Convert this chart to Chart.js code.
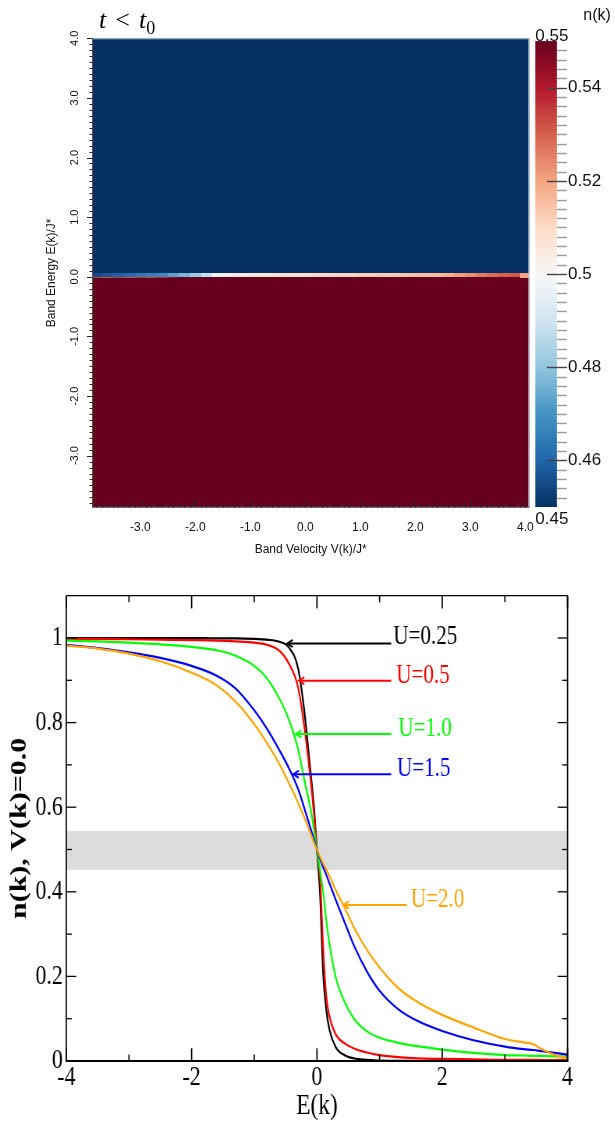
<!DOCTYPE html>
<html>
<head>
<meta charset="utf-8">
<script src="https://cdn.jsdelivr.net/npm/chart.js@4.4.1/dist/chart.umd.min.js"></script>
<style>
  html, body { margin: 0; padding: 0; background: #fff; }
  body { width: 615px; height: 1124px; position: relative; overflow: hidden; }
  #cTop { position: absolute; left: 0; top: 0; }
  #cBot { position: absolute; left: 0; top: 570px; transform: scaleX(0.78); transform-origin: 0 0; }
  #ttl { position: absolute; left: 99px; top: 6px; font: italic 26px "Liberation Serif", serif; line-height: 28px; color: #000; white-space: nowrap; }
  #ttl .op { font-style: normal; margin: 0 9px; }
  #ttl sub { font-style: normal; font-size: 18px; }
</style>
</head>
<body>
<canvas id="cTop" width="615" height="570"></canvas>
<canvas id="cBot" width="788" height="554"></canvas>
<div id="ttl"><i>t</i><span class="op">&lt;</span><i>t</i><sub>0</sub></div>
<script>
/* carte n(k) en haut, coupes n(E) a V=0 en bas */

// ---- heatmap ----
var V_MIN = -3.88, V_MAX = 4.07;
var E_MIN = -3.87, E_MAX = 4.0;
var V_TICKS = [-3, -2, -1, 0, 1, 2, 3, 4];
var E_TICKS = [-3, -2, -1, 0, 1, 2, 3, 4];
var CB_TICKS = [0.46, 0.48, 0.5, 0.52, 0.54];
var CB_ENDS = [0.45, 0.55];
var V_CELLS = [-3.8, -3.6, -3.4, -3.2, -3.0, -2.8, -2.6, -2.4, -2.2, -2.0,
               -1.8, -1.6, -1.4, -1.2, -1.0, -0.8, -0.6, -0.4, -0.2, 0.0,
                0.2, 0.4, 0.6, 0.8, 1.0, 1.2, 1.4, 1.6, 1.8, 2.0,
                2.2, 2.4, 2.6, 2.8, 3.0, 3.2, 3.4, 3.6, 3.8, 4.0];
var E_EDGES = [-3.87, -0.025, 0.0, 0.058, 4.0];
var N_BELOW = 0.55;
var N_ABOVE = 0.45;
var N_EDGE = [0.535, 0.532, 0.536, 0.533, 0.536, 0.534, 0.538, 0.545, 0.550, 0.550,
              0.550, 0.550, 0.550, 0.550, 0.550, 0.550, 0.550, 0.550, 0.550, 0.550,
              0.550, 0.550, 0.550, 0.550, 0.550, 0.550, 0.550, 0.550, 0.550, 0.550,
              0.550, 0.550, 0.550, 0.550, 0.550, 0.550, 0.550, 0.550, 0.550, 0.520];
var N_STRIP = [0.455, 0.457, 0.459, 0.461, 0.464, 0.466, 0.468, 0.473, 0.477, 0.481,
               0.488, 0.497, 0.503, 0.505, 0.506, 0.506, 0.507, 0.508, 0.509, 0.509,
               0.510, 0.510, 0.511, 0.511, 0.512, 0.512, 0.513, 0.513, 0.514, 0.515,
               0.515, 0.516, 0.518, 0.521, 0.523, 0.526, 0.528, 0.530, 0.531, 0.520];

// ---- courbes ----
var E_GRID = [-4, -3.5, -3, -2.5, -2, -1.6, -1.3, -1.0, -0.8, -0.6,
              -0.45, -0.3, -0.2, -0.1, -0.05, 0, 0.05, 0.1, 0.15, 0.2,
              0.3, 0.45, 0.6, 0.8, 1.0, 1.3, 1.6, 2.0, 2.5, 3.0,
              3.3, 3.45, 3.6, 3.8, 4.0];
var N_U025 = [1.000, 1.000, 1.000, 1.000, 1.000, 0.999, 0.999, 0.998, 0.996, 0.991,
              0.978, 0.928, 0.826, 0.680, 0.605, 0.500, 0.395, 0.205, 0.120, 0.074,
              0.033, 0.013, 0.006, 0.003, 0.001, 0.0005, 0.000, 0.000, 0.000, 0.000,
              0.000, 0.000, 0.000, 0.000, 0.000];
var N_U05 = [0.998, 0.998, 0.997, 0.996, 0.995, 0.994, 0.992, 0.989, 0.984, 0.970,
             0.940, 0.883, 0.789, 0.664, 0.588, 0.500, 0.433, 0.264, 0.152, 0.106,
             0.063, 0.041, 0.029, 0.020, 0.014, 0.009, 0.006, 0.005, 0.004, 0.003,
             0.003, 0.003, 0.002, 0.002, 0.002];
var N_U10 = [0.994, 0.992, 0.989, 0.985, 0.979, 0.971, 0.958, 0.934, 0.905, 0.857,
             0.808, 0.737, 0.664, 0.595, 0.550, 0.500, 0.450, 0.398, 0.332, 0.277,
             0.198, 0.137, 0.098, 0.070, 0.055, 0.043, 0.035, 0.027, 0.019, 0.014,
             0.013, 0.012, 0.012, 0.011, 0.011];
var N_U15 = [0.984, 0.976, 0.966, 0.953, 0.934, 0.911, 0.881, 0.829, 0.786, 0.735,
             0.693, 0.643, 0.597, 0.549, 0.525, 0.500, 0.478, 0.458, 0.440, 0.420,
             0.381, 0.325, 0.270, 0.211, 0.166, 0.122, 0.095, 0.071, 0.049, 0.034,
             0.028, 0.026, 0.023, 0.019, 0.015];
var N_U20 = [0.982, 0.975, 0.963, 0.945, 0.918, 0.888, 0.850, 0.796, 0.752, 0.702,
             0.658, 0.610, 0.575, 0.537, 0.518, 0.500, 0.483, 0.467, 0.452, 0.437,
             0.404, 0.360, 0.313, 0.262, 0.221, 0.172, 0.140, 0.109, 0.079, 0.052,
             0.044, 0.040, 0.027, 0.014, 0.006];
var X_TICKS = [-4, -2, 0, 2, 4];
var X_MINOR = [-3, -1, 1, 3];
var Y_TICKS = [0, 0.2, 0.4, 0.6, 0.8, 1];
var Y_MINOR = [0.1, 0.3, 0.5, 0.7, 0.9];
var BAND = [0.452, 0.544];

// annotations (coordonnees en unites des axes)
var U_LABELS = ['U=0.25', 'U=0.5', 'U=1.0', 'U=1.5', 'U=2.0'];
var TIP_E  = [-0.485, -0.30, -0.348, -0.39, 0.41];
var TIP_N  = [0.987, 0.899, 0.773, 0.678, 0.369];
var TAIL_E = [1.185, 1.185, 1.185, 1.185, 1.435];
var LABEL_E = [1.22, 1.265, 1.30, 1.28, 1.50];
var LABEL_N = [1.002, 0.910, 0.785, 0.690, 0.381];

var LINE_COLORS = ['#000000', '#ff0000', '#00ff00', '#0000ff', '#ffa500'];
var RDBU = ['#053061', '#2166ac', '#4393c3', '#92c5de', '#d1e5f0', '#f7f7f7',
            '#fddbc7', '#f4a582', '#d6604d', '#b2182b', '#67001f'];
var SANS = '"Liberation Sans", Arial, sans-serif';
var SERIF = '"Liberation Serif", "Times New Roman", serif';

function hexRgb(h) {
  return [parseInt(h.substr(1, 2), 16), parseInt(h.substr(3, 2), 16), parseInt(h.substr(5, 2), 16)];
}
function nColor(n) {
  var t = (n - CB_ENDS[0]) / (CB_ENDS[1] - CB_ENDS[0]) * (RDBU.length - 1);
  t = Math.max(0, Math.min(RDBU.length - 1, t));
  var i = Math.min(Math.floor(t), RDBU.length - 2), f = t - i;
  var a = hexRgb(RDBU[i]), b = hexRgb(RDBU[i + 1]);
  return 'rgb(' + Math.round(a[0] + (b[0] - a[0]) * f) + ',' +
    Math.round(a[1] + (b[1] - a[1]) * f) + ',' + Math.round(a[2] + (b[2] - a[2]) * f) + ')';
}
function line(ctx, x1, y1, x2, y2) {
  ctx.beginPath(); ctx.moveTo(x1, y1); ctx.lineTo(x2, y2); ctx.stroke();
}
// largeur/hauteur d'axe imposee, sans marge auto pour les etiquettes
function fixBox(w, h) {
  return function (s) {
    if (w !== null) s.width = w;
    if (h !== null) s.height = h;
    s.paddingTop = 0; s.paddingBottom = 0; s.paddingLeft = 0; s.paddingRight = 0;
  };
}

var heatPlugin = {
  id: 'heat',
  beforeDatasetsDraw: function (chart) {
    var ctx = chart.ctx, a = chart.chartArea, xs = chart.scales.x, ys = chart.scales.y, cb = chart.scales.cb;
    var rows = [V_CELLS.map(function () { return N_BELOW; }), N_EDGE, N_STRIP,
                V_CELLS.map(function () { return N_ABOVE; })];
    var half = (V_CELLS[1] - V_CELLS[0]) / 2;
    ctx.save();
    ctx.beginPath(); ctx.rect(a.left, a.top, a.right - a.left, a.bottom - a.top); ctx.clip();
    rows.forEach(function (row, r) {
      var y0 = Math.round(ys.getPixelForValue(E_EDGES[r]));
      var y1 = Math.round(ys.getPixelForValue(E_EDGES[r + 1]));
      V_CELLS.forEach(function (v, c) {
        var x0 = Math.round(xs.getPixelForValue(v - half));
        var x1 = Math.round(xs.getPixelForValue(v + half));
        ctx.fillStyle = nColor(row[c]);
        ctx.fillRect(x0, y1, x1 - x0, y0 - y1);
      });
    });
    ctx.restore();

    // barre de couleur
    var bl = a.right + 6, br = a.right + 27.6;
    var yTop = cb.getPixelForValue(CB_ENDS[1]), yBot = cb.getPixelForValue(CB_ENDS[0]);
    var g = ctx.createLinearGradient(0, yBot, 0, yTop);
    RDBU.forEach(function (c, i) { g.addColorStop(i / (RDBU.length - 1), c); });
    ctx.fillStyle = g;
    ctx.fillRect(bl, yTop, br - bl, yBot - yTop);
  },
  afterDraw: function (chart) {
    var ctx = chart.ctx, a = chart.chartArea, xs = chart.scales.x, ys = chart.scales.y, cb = chart.scales.cb;
    var i, p, len;
    ctx.save();
    // cadre clair haut / droite
    ctx.strokeStyle = '#b9c3cf'; ctx.lineWidth = 1;
    line(ctx, a.left, a.top + 0.5, a.right, a.top + 0.5);
    line(ctx, a.right - 0.5, a.top, a.right - 0.5, a.bottom);
    // axes gauche et bas avec graduations tous les 0.1
    ctx.strokeStyle = '#555';
    line(ctx, a.left + 0.5, a.top, a.left + 0.5, a.bottom);
    line(ctx, a.left, a.bottom - 0.5, a.right, a.bottom - 0.5);
    ctx.strokeStyle = '#222';
    for (i = -38; i <= 40; i++) {
      p = Math.round(ys.getPixelForValue(i / 10)) + 0.5;
      len = (i % 10 === 0) ? 5 : 2.5;
      line(ctx, a.left - len, p, a.left + 0.5, p);
    }
    for (i = -38; i <= 40; i++) {
      p = Math.round(xs.getPixelForValue(i / 10)) + 0.5;
      len = (i % 10 === 0) ? 6.5 : 3.5;
      line(ctx, p, a.bottom, p, a.bottom - len);
    }
    // graduations de la barre de couleur
    var bl = a.right + 6, br = a.right + 27.6;
    ctx.lineWidth = 1.4;
    ctx.strokeStyle = '#999';
    for (i = 226; i <= 274; i++) {
      if (i % 10 === 0) continue;
      p = Math.round(cb.getPixelForValue(i / 500)) + 0.5;
      line(ctx, br, p, br + 10, p);
    }
    ctx.strokeStyle = '#444';
    CB_TICKS.forEach(function (v) {
      p = Math.round(cb.getPixelForValue(v)) + 0.5;
      line(ctx, bl + 11.7, p, br + 10, p);
    });
    // valeurs extremes + titre de la barre
    ctx.fillStyle = '#111';
    ctx.font = '17px ' + SANS;
    ctx.textAlign = 'left'; ctx.textBaseline = 'alphabetic';
    ctx.fillText(String(CB_ENDS[1]), bl, cb.getPixelForValue(CB_ENDS[1]) - 0.5);
    ctx.fillText(String(CB_ENDS[0]), bl, cb.getPixelForValue(CB_ENDS[0]) + 16.5);
    ctx.font = '16px ' + SANS;
    ctx.fillText('n(k)', bl + 48, 19.5);
    ctx.restore();
  }
};

new Chart(document.getElementById('cTop'), {
  type: 'scatter',
  data: { datasets: [] },
  options: {
    responsive: false,
    animation: false,
    layout: { padding: { top: 38.3, left: 0, right: 0, bottom: 0 } },
    plugins: { legend: { display: false }, tooltip: { enabled: false } },
    scales: {
      x: {
        type: 'linear', position: 'bottom', min: V_MIN, max: V_MAX,
        afterBuildTicks: function (s) { s.ticks = V_TICKS.map(function (v) { return { value: v }; }); },
        afterFit: fixBox(null, 62.5),
        grid: { display: false, drawTicks: false }, border: { display: false },
        ticks: { callback: function (v) { return v.toFixed(1); }, font: { family: SANS, size: 12 },
                 color: '#111', padding: 13, maxRotation: 0, autoSkip: false },
        title: { display: true, text: 'Band Velocity V(k)/J*', font: { family: SANS, size: 12 },
                 color: '#111', padding: { top: 0, bottom: 12.8 } }
      },
      y: {
        type: 'linear', position: 'left', min: E_MIN, max: E_MAX,
        afterBuildTicks: function (s) { s.ticks = E_TICKS.map(function (v) { return { value: v }; }); },
        afterFit: fixBox(92, null),
        grid: { display: false, drawTicks: false }, border: { display: false },
        ticks: { callback: function (v) { return v.toFixed(1); }, font: { family: SANS, size: 11 },
                 color: '#111', padding: 8, minRotation: 90, maxRotation: 90, crossAlign: 'center', autoSkip: false },
        title: { display: true, text: 'Band Energy E(k)/J*', font: { family: SANS, size: 12 },
                 color: '#111', padding: { top: 44, bottom: 0 } }
      },
      cb: {
        type: 'linear', position: 'right', min: 0.4499, max: 0.5506,
        afterBuildTicks: function (s) { s.ticks = CB_TICKS.map(function (v) { return { value: v }; }); },
        afterFit: fixBox(85.7, null),
        grid: { display: false, drawTicks: false }, border: { display: false },
        ticks: { callback: function (v) { return String(v); }, font: { family: SANS, size: 17 },
                 color: '#111', padding: 38.7, autoSkip: false }
      }
    }
  },
  plugins: [heatPlugin]
});

// ---- panneau du bas ----
var SERIES = [N_U025, N_U05, N_U10, N_U15, N_U20];

var framePlugin = {
  id: 'frame',
  beforeDatasetsDraw: function (chart) {
    var ctx = chart.ctx, a = chart.chartArea, ys = chart.scales.y;
    var yt = ys.getPixelForValue(BAND[1]), yb = ys.getPixelForValue(BAND[0]);
    ctx.save();
    ctx.fillStyle = '#dcdcdc';
    ctx.fillRect(a.left, yt, a.right - a.left, yb - yt);
    ctx.restore();
  },
  afterDatasetsDraw: function (chart) {
    var ctx = chart.ctx, xs = chart.scales.x, ys = chart.scales.y;
    ctx.save();
    ctx.lineWidth = 2;
    ctx.font = '27px ' + SERIF;
    ctx.textAlign = 'left'; ctx.textBaseline = 'middle';
    U_LABELS.forEach(function (lab, i) {
      var c = LINE_COLORS[i];
      var tx = xs.getPixelForValue(TIP_E[i]), ty = ys.getPixelForValue(TIP_N[i]);
      var ex = xs.getPixelForValue(TAIL_E[i]);
      ctx.strokeStyle = c;
      line(ctx, tx + 1, ty, ex, ty);
      ctx.beginPath();
      ctx.moveTo(tx + 8, ty - 3.6); ctx.lineTo(tx + 1, ty); ctx.lineTo(tx + 8, ty + 3.6);
      ctx.stroke();
      ctx.fillStyle = c;
      ctx.fillText(lab, xs.getPixelForValue(LABEL_E[i]), ys.getPixelForValue(LABEL_N[i]));
    });
    ctx.restore();
  },
  afterDraw: function (chart) {
    var ctx = chart.ctx, a = chart.chartArea, xs = chart.scales.x, ys = chart.scales.y;
    ctx.save();
    ctx.strokeStyle = '#000';
    // graduations vers l'interieur sur les quatre cotes
    ctx.lineWidth = 1.7;
    X_TICKS.concat(X_MINOR).forEach(function (v) {
      var p = xs.getPixelForValue(v), len = X_TICKS.indexOf(v) >= 0 ? 12.7 : 6.5;
      line(ctx, p, a.bottom, p, a.bottom - len);
      line(ctx, p, a.top, p, a.top + len);
    });
    ctx.lineWidth = 1.3;
    Y_TICKS.concat(Y_MINOR).forEach(function (v) {
      var p = ys.getPixelForValue(v), len = Y_TICKS.indexOf(v) >= 0 ? 12.8 : 7;
      line(ctx, a.left, p, a.left + len, p);
      line(ctx, a.right, p, a.right - len, p);
    });
    // cadre
    ctx.lineWidth = 1.3;
    line(ctx, a.left, a.top, a.right, a.top);
    ctx.lineWidth = 1.7;
    line(ctx, a.left, a.top, a.left, a.bottom);
    line(ctx, a.right, a.top, a.right, a.bottom);
    ctx.lineWidth = 2;
    line(ctx, a.left - 1, a.bottom, a.right + 1, a.bottom);
    ctx.restore();
  }
};

new Chart(document.getElementById('cBot'), {
  type: 'scatter',
  data: {
    datasets: SERIES.map(function (arr, k) {
      return {
        label: U_LABELS[k],
        data: E_GRID.map(function (e, i) { return { x: e, y: arr[i] }; }),
        showLine: true,
        borderColor: LINE_COLORS[k],
        borderWidth: 2.2,
        pointRadius: 0,
        cubicInterpolationMode: 'monotone',
        order: SERIES.length - k
      };
    })
  },
  options: {
    responsive: false,
    animation: false,
    layout: { padding: { top: 25.7, right: 60.4, left: 0, bottom: 0 } },
    plugins: { legend: { display: false }, tooltip: { enabled: false } },
    scales: {
      x: {
        type: 'linear', min: -4, max: 4,
        afterBuildTicks: function (s) { s.ticks = X_TICKS.map(function (v) { return { value: v }; }); },
        afterFit: fixBox(null, 63),
        grid: { display: false, drawTicks: false }, border: { display: false },
        ticks: { callback: function (v) { return String(v); }, font: { family: SERIF, size: 28 },
                 color: '#000', padding: 0, maxRotation: 0, autoSkip: false },
        title: { display: true, text: 'E(k)', font: { family: SERIF, size: 30 }, color: '#000',
                 padding: { top: 0, bottom: 0.3 } }
      },
      y: {
        type: 'linear', min: 0, max: 1.1,
        afterBuildTicks: function (s) { s.ticks = Y_TICKS.map(function (v) { return { value: v }; }); },
        afterFit: fixBox(85, null),
        grid: { display: false, drawTicks: false }, border: { display: false },
        ticks: { callback: function (v) { return String(v); }, font: { family: SERIF, size: 28 },
                 color: '#000', padding: 4.4, autoSkip: false },
        title: { display: true, text: 'n(k), V(k)=0.0', font: { family: SERIF, size: 30, weight: 'bold' },
                 color: '#000', padding: { top: 7.6, bottom: 0 } }
      }
    }
  },
  plugins: [framePlugin]
});
</script>
</body>
</html>
